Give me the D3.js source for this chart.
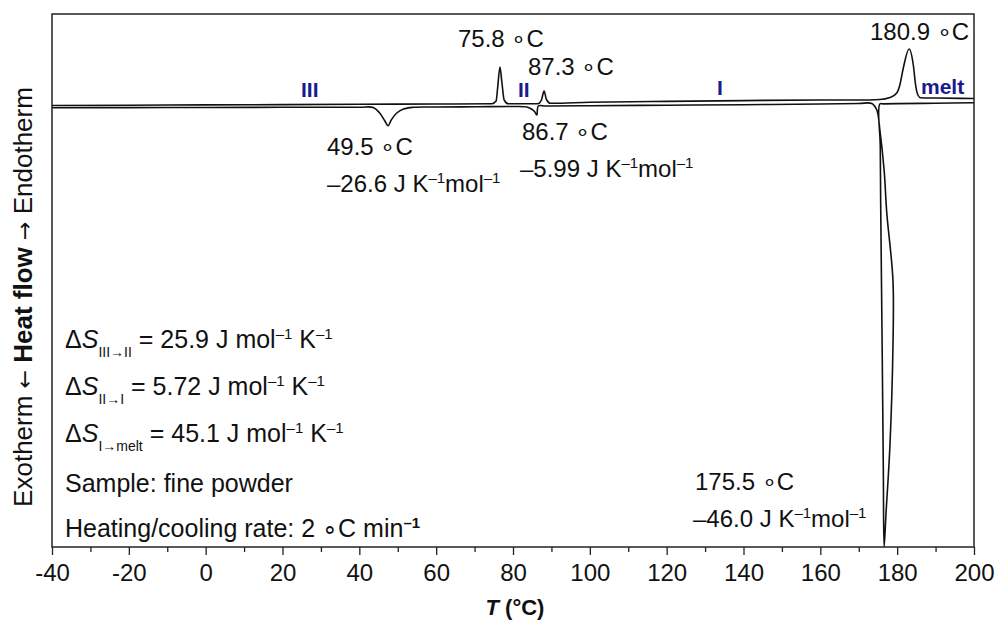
<!DOCTYPE html>
<head>
  <meta charset="utf-8">
  <script src="https://d3js.org/d3.v7.min.js"></script>
  <style>
    body { margin:0; background:#fff; }
    svg { display:block; }
  </style>
</head>

<body>
  <script>
    // DSC trace, heating (endotherm up) and cooling (exotherm down), arbitrary heat-flow units
    var heatT  = [-40, -20, 0, 20, 40, 60, 74.5, 75.6, 76.0, 76.6, 77.1, 77.7, 78.8,
                  86.5, 87.4, 88.1, 88.7, 89.8, 100, 120, 140, 160, 170, 175.5,
                  178.1, 179.9, 180.7, 181.6, 183.1, 184.2, 184.8, 185.4, 186.1, 190, 200];
    var heatHF = [0.005, 0.008, 0.011, 0.014, 0.017, 0.02, 0.022, 0.05, 0.18, 0.39, 0.24, 0.06, 0.022,
                  0.022, 0.06, 0.15, 0.065, 0.027, 0.037, 0.046, 0.054, 0.06, 0.06, 0.065,
                  0.085, 0.13, 0.21, 0.38, 0.57, 0.41, 0.21, 0.11, 0.083, 0.08, 0.075];

    // cooling run, in recorded order (200 -> -40 °C)
    var coolT  = [200, 190, 180, 176.5, 175.5, 175.6, 175.7, 176.1, 176.4, 176.6,
                  177.1, 178.1, 178.9, 178.9, 177.3, 176.6, 175.5, 174.7,
                  173.4, 170, 160, 140, 120, 100, 88.5, 86.6, 86.2, 85.6, 84.8, 83.6, 80, 70, 60,
                  54.0, 51.5, 49.6, 48.3, 47.5, 46.5, 45.3, 43.6, 40, 20, 0, -20, -40];
    var coolHF = [0.033, 0.028, 0.024, 0.021, 0.02, -0.4, -0.94, -2.44, -3.64, -4.41,
                  -4.07, -3.41, -2.41, -1.74, -1.07, -0.64, -0.24, -0.04,
                  0.025, 0.025, 0.02, 0.013, 0.008, 0.003, 0.0, 0.0, -0.09, -0.055, -0.03, -0.01, -0.005, -0.008, -0.01,
                  -0.013, -0.03, -0.075, -0.14, -0.197, -0.14, -0.07, -0.015, -0.012, -0.013, -0.015, -0.016, -0.017];

    var majorTicks = [-40, -20, 0, 20, 40, 60, 80, 100, 120, 140, 160, 180, 200];
    var minorTicks = [-30, -10, 10, 30, 50, 70, 90, 110, 130, 150, 170, 190];

    var FONT = "'Liberation Sans', Arial, Helvetica, sans-serif";
    var W = 998, H = 622,
        mL = 52, mR = 974, mT = 14, mB = 547;

    var svg = d3.select("body").append("svg")
        .attr("width", W).attr("height", H)
        .style("font-family", FONT);

    var x = d3.scaleLinear().domain([-40, 200]).range([mL, mR]);
    var y = d3.scaleLinear().domain([-4.41, 0.92]).range([mB, mT]);

    svg.append("defs").append("clipPath").attr("id", "plotclip")
      .append("rect").attr("x", mL).attr("y", mT)
      .attr("width", mR - mL).attr("height", mB - mT);

    var heat = heatT.map(function(t, i) { return [t, heatHF[i]]; });
    var cool = coolT.map(function(t, i) { return [t, coolHF[i]]; });

    var heatLine = d3.line().x(function(d){ return x(d[0]); }).y(function(d){ return y(d[1]); })
        .curve(d3.curveMonotoneX);
    var coolLine = d3.line().x(function(d){ return x(d[0]); }).y(function(d){ return y(d[1]); })
        .curve(d3.curveCatmullRom.alpha(0.5));

    var plot = svg.append("g").attr("clip-path", "url(#plotclip)");
    plot.append("path").datum(cool).attr("d", coolLine)
        .attr("fill", "none").attr("stroke", "#111").attr("stroke-width", 1.6);
    plot.append("path").datum(heat).attr("d", heatLine)
        .attr("fill", "none").attr("stroke", "#111").attr("stroke-width", 1.6);

    // axes
    svg.append("g").attr("transform", "translate(0," + mB + ")")
      .call(d3.axisBottom(x).tickValues(minorTicks).tickSize(5).tickFormat(""))
      .call(function(g){ g.select(".domain").remove(); })
      .selectAll("line").attr("stroke", "#222").attr("stroke-width", 1.3);

    var xa = svg.append("g").attr("transform", "translate(0," + mB + ")")
      .call(d3.axisBottom(x).tickValues(majorTicks).tickSize(8).tickPadding(9)
            .tickFormat(function(d){ return String(d); }));
    xa.select(".domain").remove();
    xa.selectAll("line").attr("stroke", "#222").attr("stroke-width", 1.3);
    xa.selectAll("text").attr("font-size", 24).attr("font-family", FONT).attr("fill", "#111");

    svg.append("rect").attr("x", mL).attr("y", mT)
      .attr("width", mR - mL).attr("height", mB - mT)
      .attr("fill", "none").attr("stroke", "#222").attr("stroke-width", 1.5);

    // rich text helper: parts = [[text, kind]], kind: n, sup, supb, sub, i, b
    function rich(px, py, parts, size) {
      size = size || 24;
      var t = svg.append("text").attr("x", px).attr("y", py)
        .attr("font-size", size).attr("fill", "#111");
      var shift = 0;
      parts.forEach(function(p) {
        var s = t.append("tspan").text(p[0]), k = p[1] || "n", target = 0;
        if (k === "sup" || k === "supb") { target = -9; s.attr("font-size", 15); }
        if (k === "sub") { target = 9; s.attr("font-size", 14); }
        if (k === "i") s.attr("font-style", "italic");
        if (k === "b" || k === "supb") s.attr("font-weight", "bold");
        if (target - shift !== 0) s.attr("dy", target - shift);
        shift = target;
      });
      return t;
    }

    var unitK = function(v) { return [[v + " J K"], ["\u20131", "sup"], ["mol"], ["\u20131", "sup"]]; };

    rich(458, 47, [["75.8 \u2218C"]]);
    rich(528, 75, [["87.3 \u2218C"]]);
    rich(870, 40, [["180.9 \u2218C"]]);
    rich(327, 155, [["49.5 \u2218C"]]);
    rich(327, 192, unitK("\u201326.6"));
    rich(522, 140, [["86.7 \u2218C"]]);
    rich(520, 177, unitK("\u20135.99"));
    rich(695, 490, [["175.5 \u2218C"]]);
    rich(693, 527, unitK("\u201346.0"));

    var dS = function(sub, v) {
      return [["\u0394"], ["S", "i"], [sub, "sub"], [" = " + v + " J mol"], ["\u20131", "sup"], [" K"], ["\u20131", "sup"]];
    };
    rich(65, 348, dS("III\u2192II", "25.9"), 25);
    rich(65, 395, dS("II\u2192I", "5.72"), 25);
    rich(65, 442, dS("I\u2192melt", "45.1"), 25);
    rich(65, 492, [["Sample: fine powder"]], 25);
    rich(65, 537, [["Heating/cooling rate: 2 \u2218C min"], ["\u20131", "supb"]], 25);

    // phase labels
    var phases = [["III", 301, 97], ["II", 518, 97], ["I", 717, 95], ["melt", 921, 94]];
    svg.selectAll("text.phase").data(phases).enter().append("text")
      .attr("class", "phase")
      .attr("x", function(d){ return d[1]; }).attr("y", function(d){ return d[2]; })
      .attr("font-size", 21).attr("font-weight", "bold").attr("fill", "#1a1a8f")
      .text(function(d){ return d[0]; });

    // axis titles
    var yl = svg.append("text").attr("transform", "translate(32,297) rotate(-90)")
      .attr("text-anchor", "middle").attr("font-size", 26).attr("fill", "#111");
    yl.append("tspan").text("Exotherm ");
    yl.append("tspan").attr("font-family", "'DejaVu Sans'").attr("font-size", 22).text("\u2190");
    yl.append("tspan").attr("font-weight", "bold").text(" Heat flow ");
    yl.append("tspan").attr("font-family", "'DejaVu Sans'").attr("font-size", 22).text("\u2192");
    yl.append("tspan").text(" Endotherm");

    var xl = svg.append("text").attr("x", 515).attr("y", 615)
      .attr("text-anchor", "middle").attr("font-size", 22).attr("font-weight", "bold").attr("fill", "#111");
    xl.append("tspan").attr("font-style", "italic").text("T");
    xl.append("tspan").text(" (\u00b0C)");
  </script>
</body>

</html>
